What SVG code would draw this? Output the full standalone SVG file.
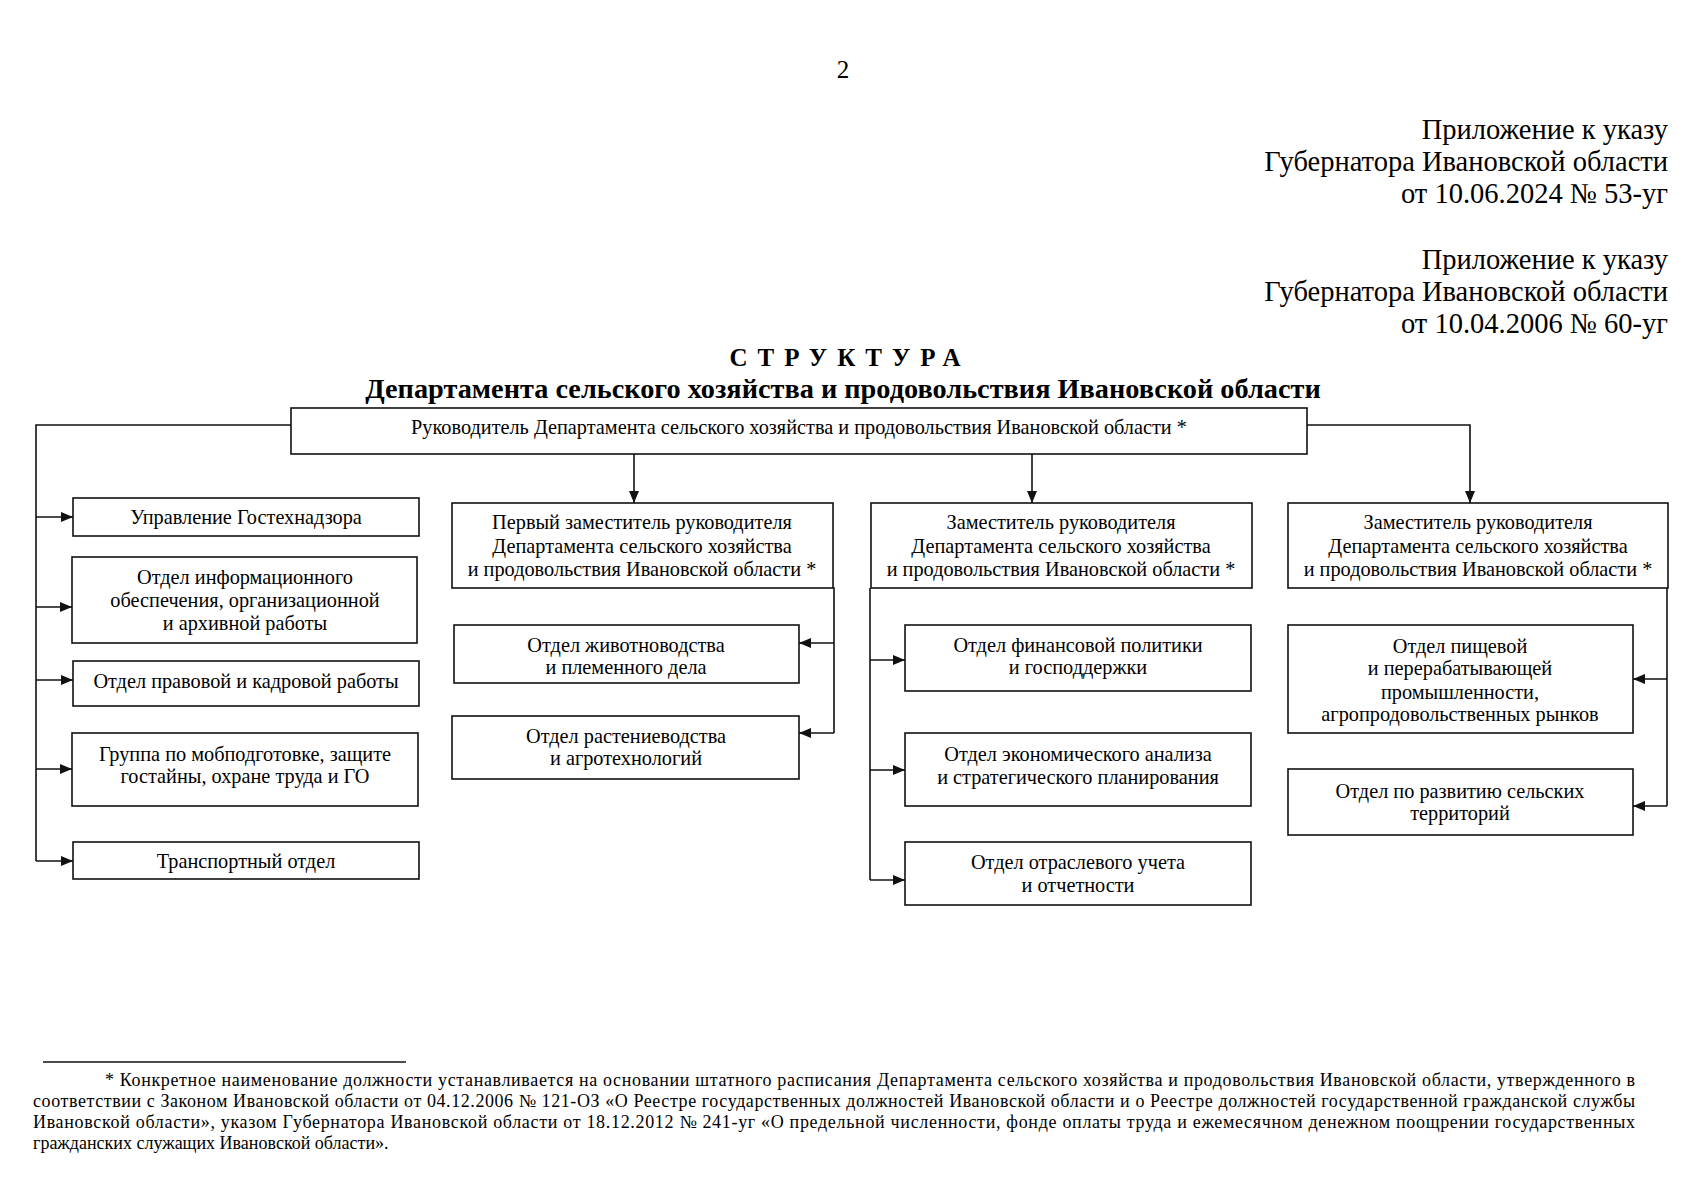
<svg xmlns="http://www.w3.org/2000/svg" width="1697" height="1200" viewBox="0 0 1697 1200">
<style>
text{font-family:"Liberation Serif","Times New Roman",serif;fill:#000}
.hdr{font-size:28.5px;text-anchor:end}
.box{fill:#fff;stroke:#111;stroke-width:1.6}
.t{font-size:20.3px;text-anchor:middle}
.ln{fill:none;stroke:#111;stroke-width:1.6}
.arr{fill:none;stroke:#111;stroke-width:1.6;marker-end:url(#ah)}
.fn{font-size:18px}
</style>
<defs>
<marker id="ah" markerUnits="userSpaceOnUse" markerWidth="12" markerHeight="10" refX="12" refY="5" orient="auto">
<path d="M0,0 L12,5 L0,10 z" fill="#111"/>
</marker>
</defs>
<rect width="1697" height="1200" fill="#fff"/>

<text x="843" y="78" font-size="25" text-anchor="middle">2</text>

<g id="header">
<text class="hdr" x="1668" y="139">Приложение к указу</text>
<text class="hdr" x="1668" y="171">Губернатора Ивановской области</text>
<text class="hdr" x="1668" y="203">от 10.06.2024 № 53-уг</text>
<text class="hdr" x="1668" y="269">Приложение к указу</text>
<text class="hdr" x="1668" y="301">Губернатора Ивановской области</text>
<text class="hdr" x="1668" y="333">от 10.04.2006 № 60-уг</text>
</g>

<g id="title">
<text x="850" y="366" font-size="25" font-weight="bold" text-anchor="middle" letter-spacing="10">СТРУКТУРА</text>
<text x="843" y="398" font-size="28.3" font-weight="bold" text-anchor="middle">Департамента сельского хозяйства и продовольствия Ивановской области</text>
</g>

<g id="connectors">
<polyline class="ln" points="291,425 36,425 36,861"/>
<line class="arr" x1="36" y1="517" x2="73" y2="517"/>
<line class="arr" x1="36" y1="607" x2="72" y2="607"/>
<line class="arr" x1="36" y1="680" x2="73" y2="680"/>
<line class="arr" x1="36" y1="769" x2="72" y2="769"/>
<line class="arr" x1="36" y1="861" x2="73" y2="861"/>
<line class="arr" x1="634" y1="454" x2="634" y2="503"/>
<line class="arr" x1="1032" y1="454" x2="1032" y2="503"/>
<polyline class="arr" points="1307,425 1470,425 1470,503"/>
<polyline class="ln" points="833,588 834,588 834,733"/>
<line class="arr" x1="834" y1="643" x2="799" y2="643"/>
<line class="arr" x1="834" y1="733" x2="799" y2="733"/>
<polyline class="ln" points="870,588 870,880"/>
<line class="arr" x1="870" y1="660" x2="905" y2="660"/>
<line class="arr" x1="870" y1="770" x2="905" y2="770"/>
<line class="arr" x1="870" y1="880" x2="905" y2="880"/>
<polyline class="ln" points="1667,588 1667,806"/>
<line class="arr" x1="1667" y1="679" x2="1633" y2="679"/>
<line class="arr" x1="1667" y1="806" x2="1633" y2="806"/>
</g>

<g id="head">
<rect class="box" x="291" y="408" width="1016" height="46"/>
<text class="t" x="799" y="434">Руководитель Департамента сельского хозяйства и продовольствия Ивановской области *</text>
</g>

<g id="gostekh">
<rect class="box" x="73" y="498" width="346" height="38"/>
<text class="t" x="246" y="524">Управление Гостехнадзора</text>
</g>
<g id="info">
<rect class="box" x="72" y="557" width="345" height="86"/>
<text class="t" x="245" y="584">Отдел информационного</text>
<text class="t" x="245" y="607">обеспечения, организационной</text>
<text class="t" x="245" y="630">и архивной работы</text>
</g>
<g id="legal">
<rect class="box" x="73" y="661" width="346" height="45"/>
<text class="t" x="246" y="688">Отдел правовой и кадровой работы</text>
</g>
<g id="mob">
<rect class="box" x="72" y="733" width="346" height="73"/>
<text class="t" x="245" y="761">Группа по мобподготовке, защите</text>
<text class="t" x="245" y="783">гостайны, охране труда и ГО</text>
</g>
<g id="transport">
<rect class="box" x="73" y="842" width="346" height="37"/>
<text class="t" x="246" y="868">Транспортный отдел</text>
</g>

<g id="first-deputy">
<rect class="box" x="452" y="503" width="381" height="85"/>
<text class="t" x="642" y="529">Первый заместитель руководителя</text>
<text class="t" x="642" y="553">Департамента сельского хозяйства</text>
<text class="t" x="642" y="576">и продовольствия Ивановской области *</text>
</g>
<g id="livestock">
<rect class="box" x="454" y="625" width="345" height="58"/>
<text class="t" x="626" y="652">Отдел животноводства</text>
<text class="t" x="626" y="674">и племенного дела</text>
</g>
<g id="crops">
<rect class="box" x="452" y="716" width="347" height="63"/>
<text class="t" x="626" y="743">Отдел растениеводства</text>
<text class="t" x="626" y="765">и агротехнологий</text>
</g>

<g id="deputy-2">
<rect class="box" x="871" y="503" width="381" height="85"/>
<text class="t" x="1061" y="529">Заместитель руководителя</text>
<text class="t" x="1061" y="553">Департамента сельского хозяйства</text>
<text class="t" x="1061" y="576">и продовольствия Ивановской области *</text>
</g>
<g id="finance">
<rect class="box" x="905" y="625" width="346" height="66"/>
<text class="t" x="1078" y="652">Отдел финансовой политики</text>
<text class="t" x="1078" y="674">и господдержки</text>
</g>
<g id="economy">
<rect class="box" x="905" y="733" width="346" height="73"/>
<text class="t" x="1078" y="761">Отдел экономического анализа</text>
<text class="t" x="1078" y="784">и стратегического планирования</text>
</g>
<g id="accounting">
<rect class="box" x="905" y="842" width="346" height="63"/>
<text class="t" x="1078" y="869">Отдел отраслевого учета</text>
<text class="t" x="1078" y="892">и отчетности</text>
</g>

<g id="deputy-3">
<rect class="box" x="1288" y="503" width="380" height="85"/>
<text class="t" x="1478" y="529">Заместитель руководителя</text>
<text class="t" x="1478" y="553">Департамента сельского хозяйства</text>
<text class="t" x="1478" y="576">и продовольствия Ивановской области *</text>
</g>
<g id="food">
<rect class="box" x="1288" y="625" width="345" height="108"/>
<text class="t" x="1460" y="653">Отдел пищевой</text>
<text class="t" x="1460" y="675">и перерабатывающей</text>
<text class="t" x="1460" y="699">промышленности,</text>
<text class="t" x="1460" y="721">агропродовольственных рынков</text>
</g>
<g id="rural">
<rect class="box" x="1288" y="769" width="345" height="66"/>
<text class="t" x="1460" y="798">Отдел по развитию сельских</text>
<text class="t" x="1460" y="820">территорий</text>
</g>

<g id="footnote">
<line x1="43" y1="1062" x2="406" y2="1062" stroke="#111" stroke-width="1.6"/>
<text class="fn" x="105" y="1086" textLength="1530" lengthAdjust="spacing">* Конкретное наименование должности устанавливается на основании штатного расписания Департамента сельского хозяйства и продовольствия Ивановской области, утвержденного в</text>
<text class="fn" x="33" y="1107" textLength="1602" lengthAdjust="spacing">соответствии с Законом Ивановской области от 04.12.2006 № 121-ОЗ «О Реестре государственных должностей Ивановской области и о Реестре должностей государственной гражданской службы</text>
<text class="fn" x="33" y="1128" textLength="1602" lengthAdjust="spacing">Ивановской области», указом Губернатора Ивановской области от 18.12.2012 № 241-уг «О предельной численности, фонде оплаты труда и ежемесячном денежном поощрении государственных</text>
<text class="fn" x="33" y="1149">гражданских служащих Ивановской области».</text>
</g>
</svg>
